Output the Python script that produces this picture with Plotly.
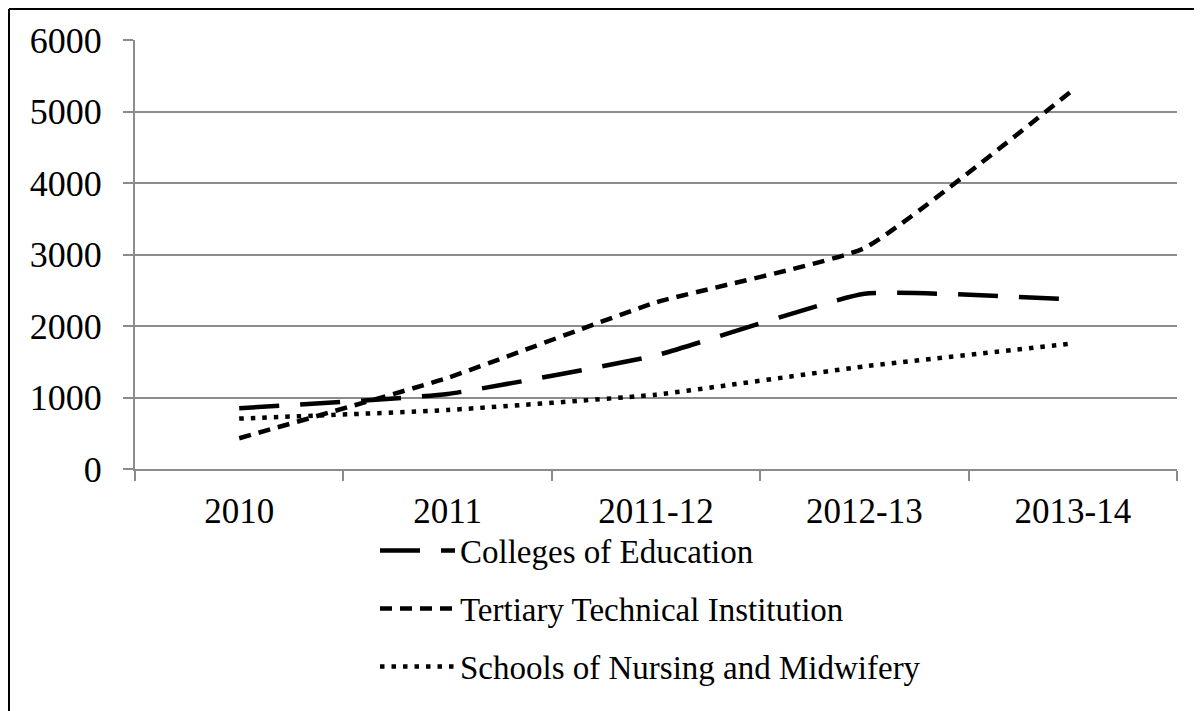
import plotly.graph_objects as go

categories = ["2010", "2011", "2011-12", "2012-13", "2013-14"]
colleges = [850, 1050, 1590, 2450, 2370]
tertiary = [430, 1275, 2330, 3090, 5300]
nursing = [705, 825, 1040, 1435, 1755]
y_ticks = [0, 1000, 2000, 3000, 4000, 5000, 6000]

FONT = "Liberation Serif"
W, H = 1202, 711
ML, MT = 127, 32
PW, PH = 1042, 429
MR = W - ML - PW
MB = H - MT - PH

fig = go.Figure()
series = [
    ("Colleges of Education", colleges, "40px,21px"),
    ("Tertiary Technical Institution", tertiary, "12px,8px"),
    ("Schools of Nursing and Midwifery", nursing, "4.5px,7px"),
]
for i, (name, vals, dash) in enumerate(series):
    fig.add_trace(go.Scatter(
        x=categories, y=vals, name=name, mode="lines",
        legendgroup=f"g{i}",
        line=dict(color="black", width=4.5, dash=dash, shape="spline", smoothing=0.4),
    ))

grid = "#8c8c8c"
fig.update_layout(
    width=W, height=H,
    margin=dict(l=ML, r=MR, t=MT, b=MB),
    paper_bgcolor="white", plot_bgcolor="white",
    font=dict(family=FONT, size=33, color="black"),
    showlegend=True,
    legend=dict(
        x=240 / PW, xanchor="left",
        y=-0.125, yanchor="top",
        orientation="v", tracegroupgap=12, itemwidth=75,
        font=dict(family=FONT, size=33, color="black"),
        bgcolor="rgba(0,0,0,0)",
    ),
    xaxis=dict(
        type="category", range=[-0.5, 4.5],
        tickson="boundaries", ticks="outside", ticklen=10, tickwidth=2, tickcolor=grid,
        showline=True, linecolor=grid, linewidth=2,
        showgrid=False, zeroline=False,
        ticklabelstandoff=10,
        tickfont=dict(family=FONT, size=35, color="black"),
    ),
    yaxis=dict(
        range=[0, 6000], tickvals=y_ticks,
        ticktext=[str(v) for v in y_ticks],
        ticks="outside", ticklen=10, tickwidth=2, tickcolor=grid,
        showline=True, linecolor=grid, linewidth=2,
        showgrid=True, gridcolor=grid, gridwidth=2,
        zeroline=False,
        ticklabelstandoff=14,
        tickfont=dict(family=FONT, size=36, color="black"),
    ),
)

x_left = -ML / PW + 1 / PW
y_top = 1 + (MT - 1) / PH
fig.add_shape(type="line", xref="paper", yref="paper",
              x0=x_left, x1=1.2, y0=y_top, y1=y_top,
              line=dict(color="black", width=2))
fig.add_shape(type="line", xref="paper", yref="paper",
              x0=x_left, x1=x_left, y0=y_top, y1=-1,
              line=dict(color="black", width=2))

fig.write_html("out.html")
